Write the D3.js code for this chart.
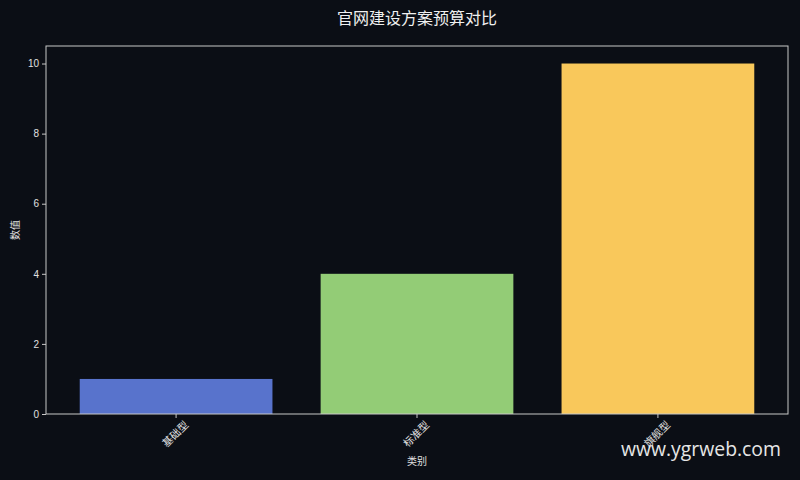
<!DOCTYPE html>
<html>
<head>
<meta charset="utf-8">
<script src="https://cdn.jsdelivr.net/npm/d3@7"></script>
<style>
  html, body { margin: 0; padding: 0; background: #0b0e15; }
  svg { display: block; }
</style>
</head>
<body>
<div id="chart"></div>
<script>
// Chart data
const categories = ["基础型", "标准型", "旗舰型"];
const values = [1, 4, 10];
const barColors = ["#5873cc", "#93cc76", "#f9c85b"];
const yTicks = [0, 2, 4, 6, 8, 10];

const width = 800;
const height = 480;
const margin = {top: 46, right: 12, bottom: 66, left: 46};
const cjk = "'Noto Sans CJK SC', 'Noto Sans', sans-serif";

const svg = d3.select("#chart")
    .append("svg")
    .attr("width", width)
    .attr("height", height);

svg.append("rect")
    .attr("width", width)
    .attr("height", height)
    .attr("fill", "#0b0e15");

const xScale = d3.scaleBand()
    .domain(categories)
    .range([margin.left, width - margin.right])
    .paddingInner(0.2)
    .paddingOuter(0.14);

const yScale = d3.scaleLinear()
    .domain([0, 10.5])
    .range([height - margin.bottom, margin.top]);

// Bars
svg.selectAll("rect.bar")
    .data(categories)
    .join("rect")
    .attr("class", "bar")
    .attr("x", d => xScale(d))
    .attr("y", (d, i) => yScale(values[i]))
    .attr("width", xScale.bandwidth())
    .attr("height", (d, i) => yScale(0) - yScale(values[i]))
    .attr("fill", (d, i) => barColors[i]);

// Frame
svg.append("rect")
    .attr("x", margin.left)
    .attr("y", margin.top)
    .attr("width", width - margin.left - margin.right)
    .attr("height", height - margin.top - margin.bottom)
    .attr("fill", "none")
    .attr("stroke", "#c8c8c8")
    .attr("stroke-width", 1);

// X axis
const xAxis = svg.append("g")
    .attr("transform", `translate(0,${height - margin.bottom})`)
    .call(d3.axisBottom(xScale).tickSize(4).tickPadding(5));
xAxis.select(".domain").remove();
xAxis.selectAll("line").attr("stroke", "#c8c8c8");
xAxis.selectAll("text")
    .attr("fill", "#e0e0e0")
    .style("font-family", cjk)
    .style("font-size", "10.5px")
    .attr("text-anchor", "end")
    .attr("dx", "0.1em")
    .attr("dy", "0.8em")
    .attr("transform", "rotate(-45)");

// Y axis
const yAxis = svg.append("g")
    .attr("transform", `translate(${margin.left},0)`)
    .call(d3.axisLeft(yScale).tickValues(yTicks).tickSize(4).tickPadding(3));
yAxis.select(".domain").remove();
yAxis.selectAll("line").attr("stroke", "#c8c8c8");
yAxis.selectAll("text")
    .attr("fill", "#e0e0e0")
    .style("font-family", "'Liberation Sans', Arial, sans-serif")
    .style("font-size", "10px");

// Title
svg.append("text")
    .attr("x", (margin.left + width - margin.right) / 2)
    .attr("y", 24)
    .attr("text-anchor", "middle")
    .attr("fill", "#f0f0f0")
    .style("font-family", cjk)
    .style("font-size", "16px")
    .text("官网建设方案预算对比");

// Axis labels
svg.append("text")
    .attr("x", (margin.left + width - margin.right) / 2)
    .attr("y", 465)
    .attr("text-anchor", "middle")
    .attr("fill", "#e0e0e0")
    .style("font-family", cjk)
    .style("font-size", "10px")
    .text("类别");

svg.append("text")
    .attr("transform", "rotate(-90)")
    .attr("x", -(margin.top + height - margin.bottom) / 2)
    .attr("y", 19)
    .attr("text-anchor", "middle")
    .attr("fill", "#e0e0e0")
    .style("font-family", cjk)
    .style("font-size", "10px")
    .text("数值");

// Watermark
svg.append("text")
    .attr("x", 781)
    .attr("y", 456)
    .attr("text-anchor", "end")
    .attr("fill", "#e6e6e6")
    .style("font-family", "'Open Sans', 'Noto Sans', sans-serif")
    .style("font-size", "19.4px")
    .text("www.ygrweb.com");
</script>
</body>
</html>
